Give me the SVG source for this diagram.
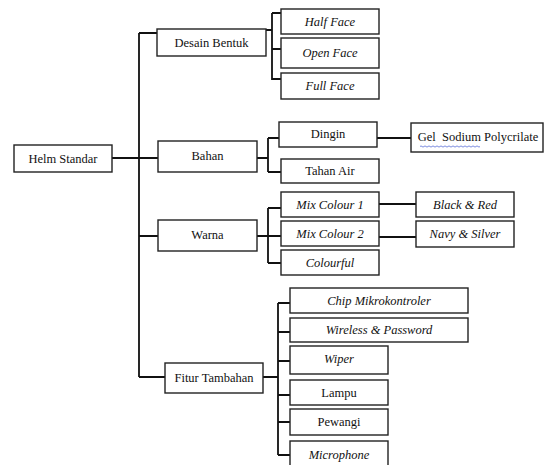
<svg xmlns="http://www.w3.org/2000/svg" width="545" height="465" viewBox="0 0 545 465">
<style>
rect{fill:#fff;stroke:#222;stroke-width:1.4}
text{font-family:"Liberation Serif","Times New Roman",serif;font-size:12.5px;fill:#111;text-anchor:middle;dominant-baseline:central}
.i{font-style:italic}
#connectors path{fill:none;stroke:#111;stroke-width:1.8}
</style>
<rect x="0" y="0" width="545" height="465" style="fill:#fff;stroke:none"/>
<g id="connectors">
<path d="M112 158H139M139 33V377M139 33H157M139 158H158M139 236H158M139 377H165"/>
<path d="M266 30H272M272 13V80M272 13H281M272 49H281M272 79H281"/>
<path d="M257 158H268M268 138V172M268 138H279M268 172H281"/>
<path d="M377 138H411"/>
<path d="M257 236H268M268 208V263M268 208H281M268 236H281M268 263H281"/>
<path d="M379 204H416M379 237H416"/>
<path d="M263 377H278M278 303V455M278 303H290M278 332H290M278 361H290M278 395H290M278 422H290M278 455H290"/>
</g>
<g id="helm"><rect x="14" y="145" width="98" height="27"/><text x="63" y="158.5">Helm Standar</text></g>
<g id="desain"><rect x="157" y="29" width="109" height="27"/><text x="211.5" y="42.5">Desain Bentuk</text></g>
<g id="bahan"><rect x="158" y="141" width="99" height="31"/><text x="207.5" y="156">Bahan</text></g>
<g id="warna"><rect x="158" y="220" width="99" height="31"/><text x="207.5" y="235">Warna</text></g>
<g id="fitur"><rect x="165" y="363" width="98" height="30"/><text x="214" y="377.5">Fitur Tambahan</text></g>
<g id="half"><rect x="281" y="9" width="98" height="25"/><text class="i" x="330" y="21.5">Half Face</text></g>
<g id="open"><rect x="281" y="38" width="98" height="30"/><text class="i" x="330" y="52.5">Open Face</text></g>
<g id="full"><rect x="281" y="73" width="98" height="26"/><text class="i" x="330" y="86">Full Face</text></g>
<g id="dingin"><rect x="279" y="122" width="98" height="25"/><text x="328" y="134">Dingin</text></g>
<g id="tahan"><rect x="281" y="159" width="98" height="24"/><text x="330" y="171">Tahan Air</text></g>
<g id="gel"><rect x="411" y="123" width="132" height="29"/><text x="478" y="137">Gel&#160; Sodium Polycrilate</text><path d="M420 146.5q1-1.2 2 0t2 0t2 0t2 0t2 0t2 0t2 0t2 0t2 0t2 0t2 0t2 0t2 0t2 0t2 0t2 0t2 0t2 0t2 0t2 0t2 0t2 0t2 0t2 0t2 0t2 0t2 0t2 0t2 0t2 0" fill="none" stroke="#5b6fd6" stroke-width="0.8"/></g>
<g id="mix1"><rect x="281" y="192" width="98" height="25"/><text class="i" x="330" y="204.5">Mix Colour 1</text></g>
<g id="mix2"><rect x="281" y="221" width="98" height="25"/><text class="i" x="330" y="233.5">Mix Colour 2</text></g>
<g id="colourful"><rect x="281" y="250" width="98" height="25"/><text class="i" x="330" y="262.5">Colourful</text></g>
<g id="blackred"><rect x="416" y="192" width="98" height="25"/><text class="i" x="465" y="204.5">Black &amp; Red</text></g>
<g id="navy"><rect x="416" y="221" width="98" height="26"/><text class="i" x="465" y="234">Navy &amp; Silver</text></g>
<g id="chip"><rect x="290" y="288" width="178" height="25"/><text class="i" x="379" y="300.5">Chip Mikrokontroler</text></g>
<g id="wireless"><rect x="290" y="318" width="178" height="24"/><text class="i" x="379" y="330">Wireless &amp; Password</text></g>
<g id="wiper"><rect x="290" y="346" width="98" height="28"/><text class="i" x="339" y="359">Wiper</text></g>
<g id="lampu"><rect x="290" y="380" width="98" height="25"/><text x="339" y="392.5">Lampu</text></g>
<g id="pewangi"><rect x="290" y="409" width="98" height="26"/><text x="339" y="422">Pewangi</text></g>
<g id="microphone"><rect x="290" y="441" width="98" height="30"/><text class="i" x="339" y="454.5">Microphone</text></g>
</svg>
